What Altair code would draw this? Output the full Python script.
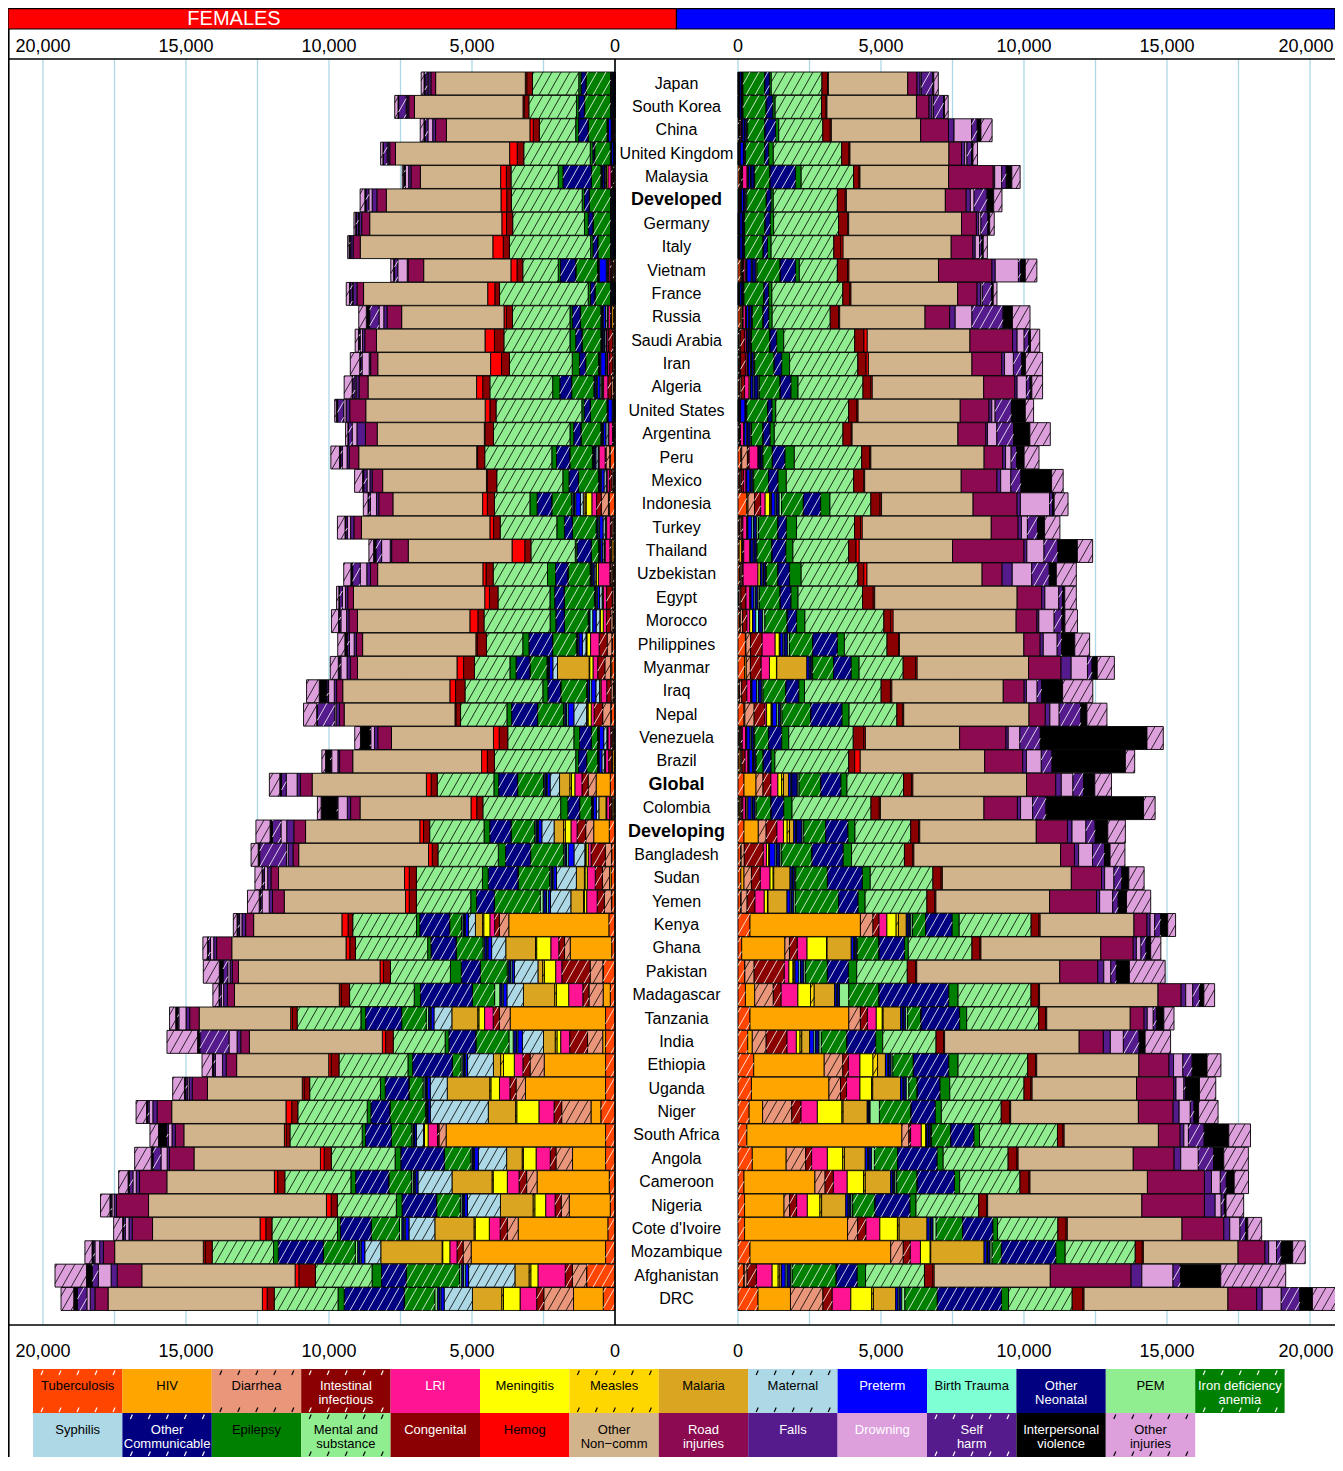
import altair as alt
import numpy as np
import pandas as pd

# ---------------- categories ----------------
CAUSES = ["Tuberculosis", "HIV", "Diarrhea", "Intestinal infectious", "LRI", "Meningitis",
          "Measles", "Malaria", "Maternal", "Preterm", "Birth Trauma", "Other Neonatal", "PEM",
          "Iron deficiency anemia", "Syphilis", "Other Communicable", "Epilepsy",
          "Mental and substance", "Congenital", "Hemog", "Other Non-comm", "Road injuries",
          "Falls", "Drowning", "Self harm", "Interpersonal violence", "Other injuries"]
LEGEND_LABELS = ["Tuberculosis", "HIV", "Diarrhea", "Intestinal\ninfectious", "LRI", "Meningitis",
                 "Measles", "Malaria", "Maternal", "Preterm", "Birth Trauma", "Other\nNeonatal", "PEM",
                 "Iron deficiency\nanemia", "Syphilis", "Other\nCommunicable", "Epilepsy",
                 "Mental and\nsubstance", "Congenital", "Hemog", "Other\nNon\u2212comm", "Road\ninjuries",
                 "Falls", "Drowning", "Self\nharm", "Interpersonal\nviolence", "Other\ninjuries"]
COLORS = ["#FF4500", "#FFA500", "#E9967A", "#8B0000", "#FF1493", "#FFFF00", "#FFD700", "#DAA520",
          "#ADD8E6", "#0000FF", "#7FFFD4", "#000080", "#90EE90", "#008000", "#ADD8E6", "#000080",
          "#008000", "#90EE90", "#8B0000", "#FF0000", "#D2B48C", "#8B0A50", "#551A8B", "#DDA0DD",
          "#551A8B", "#000000", "#DDA0DD"]
HATCHED = [1, 0, 1, 1, 0, 0, 1, 0, 1, 0, 0, 0, 0, 1, 0, 1, 0, 1, 0, 0, 0, 0, 0, 0, 1, 0, 1]
HATCH_INK = ["white", "black", "black", "white", "black", "black", "black", "black", "black", "white",
             "black", "white", "black", "white", "black", "white", "black", "black", "white", "black",
             "black", "white", "white", "black", "white", "white", "black"]
LEGEND_TEXT = ["black", "black", "black", "white", "white", "black", "black", "black", "black", "white",
               "black", "white", "black", "white", "black", "white", "black", "black", "white", "black",
               "black", "white", "white", "white", "white", "white", "black"]

ROWS = ["Japan", "South Korea", "China", "United Kingdom", "Malaysia", "Developed", "Germany", "Italy",
        "Vietnam", "France", "Russia", "Saudi Arabia", "Iran", "Algeria", "United States", "Argentina",
        "Peru", "Mexico", "Indonesia", "Turkey", "Thailand", "Uzbekistan", "Egypt", "Morocco",
        "Philippines", "Myanmar", "Iraq", "Nepal", "Venezuela", "Brazil", "Global", "Colombia",
        "Developing", "Bangladesh", "Sudan", "Yemen", "Kenya", "Ghana", "Pakistan", "Madagascar",
        "Tanzania", "India", "Ethiopia", "Uganda", "Niger", "South Africa", "Angola", "Cameroon",
        "Nigeria", "Cote d'Ivoire", "Mozambique", "Afghanistan", "DRC"]
BOLD_ROWS = ["Developed", "Global", "Developing"]

TICK_VALUES = [0, 5000, 10000, 15000, 20000]
GRID_VALUES = [0, 2500, 5000, 7500, 10000, 12500, 15000, 17500, 20000]

# ---------------- values (order of CAUSES) ----------------
# males
m_japan = [10,5,10,10,20,10,0,0,0,50,10,30,20, 760,5,160,65,1770,195,30,2775,325,110,40,405,30,160]
m_south_korea = [10,5,10,10,20,10,0,0,0,50,10,30,20, 810,5,230,80,1620,160,30,3130,440,100,50,360,30,130]
m_china = [30,10,20,20,50,15,5,0,0,70,20,60,40, 600,5,370,110,1540,260,40,3120,975,195,615,195,130,390]
m_uk = [10,5,10,10,30,15,0,0,0,110,10,40,20, 680,5,130,160,2390,260,30,3460,440,110,80,160,50,160]
m_malaysia = [60,30,30,40,160,30,5,20,0,60,20,110,20, 535,5,890,195,1830,195,30,3100,1560,50,245,160,195,290]
m_developed = [15,10,15,15,40,20,2,0,0,80,15,60,38, 680,5,160,80,2240,275,40,3460,730,145,130,455,230,290]
m_germany = [10,5,10,10,25,10,0,0,0,80,10,50,20, 715,5,180,115,2270,325,30,3945,520,80,80,245,60,160]
m_italy = [10,5,10,10,25,10,0,0,0,80,10,50,20, 650,5,145,130,2190,250,75,3780,760,80,150,80,50,145]
m_vietnam = [80,40,40,50,60,30,5,10,0,150,30,130,40, 810,5,535,130,1330,355,50,3130,1870,115,810,80,160,405]
m_france = [10,5,10,10,25,10,0,0,0,70,10,40,20, 700,5,160,110,2480,245,40,3730,680,120,60,325,60,130]
m_russia = [80,60,20,20,80,30,5,0,0,80,20,80,25, 375,10,195,115,2030,290,40,2985,860,195,585,1090,325,615]
m_saudi = [30,10,40,150,60,20,5,5,0,50,20,50,30, 650,5,230,245,2480,325,115,3590,1490,160,245,160,60,325]
m_iran = [30,20,40,170,60,30,5,5,0,80,30,80,35, 680,5,260,275,2385,290,80,3620,1040,100,310,290,130,600]
m_algeria = [40,10,60,120,160,40,10,5,0,80,40,140,40, 730,5,375,245,2270,275,50,3895,1090,80,325,130,60,375]
m_us = [10,20,10,10,30,10,0,0,0,160,10,30,20, 730,5,145,130,2550,290,40,3570,1005,100,115,570,485,290]
m_argentina = [30,20,20,20,110,20,0,0,0,90,30,90,40, 405,5,245,145,2400,290,30,3700,975,60,325,585,570,715]
m_peru = [100,30,200,60,310,20,5,5,0,40,20,60,25, 325,5,440,325,2355,290,30,3960,650,100,195,195,260,520]
m_mexico = [40,30,40,90,80,20,0,5,0,110,30,70,35, 520,5,325,290,2355,355,30,3375,1250,130,355,355,1070,405]
m_indonesia = [310,40,230,210,160,160,20,40,0,130,40,100,85, 760,5,600,325,1430,325,50,3200,1540,115,1020,100,60,485]
m_turkey = [40,10,60,60,130,40,5,0,0,140,60,110,60, 680,5,290,355,2030,210,60,4510,940,115,210,355,245,535]
m_thailand = [40,90,30,40,210,30,5,5,0,80,30,80,25, 520,5,485,245,1950,260,110,3260,2500,100,600,485,680,535]
m_uzbekistan = [60,20,60,40,520,80,10,0,0,60,40,70,30, 405,5,405,405,1980,210,110,4025,700,355,680,615,245,700]
m_egypt = [30,10,60,180,130,40,5,0,0,100,50,90,50, 730,5,375,245,2255,375,50,4980,860,110,485,130,80,405]
m_morocco = [60,20,80,150,100,100,10,0,0,100,100,140,80, 780,5,325,290,2760,250,75,4300,730,65,535,275,100,440]
m_philippines = [260,20,160,405,455,145,10,20,0,100,40,120,65, 810,5,860,245,1490,405,30,4350,570,110,485,160,455,520]
m_myanmar = [230,60,145,375,290,245,10,1055,0,80,30,60,30, 730,5,615,275,1540,440,50,3895,1135,355,570,160,180,600]
m_iraq = [40,10,80,180,130,40,10,0,0,160,60,120,45, 795,5,455,195,2680,325,50,3895,730,80,375,160,730,1055]
m_nepal = [210,30,325,375,60,160,20,20,0,150,60,80,50, 1005,5,1090,245,1670,210,30,4380,570,160,325,760,210,700]
m_venezuela = [30,30,40,50,120,20,5,10,0,120,40,80,40, 485,5,455,245,2255,375,50,3295,1620,80,405,715,3730,570]
m_brazil = [40,60,40,110,100,30,5,5,0,120,30,65,30, 245,5,275,130,2580,210,195,4350,1330,130,520,375,2565,325]
m_global = [210,420,245,275,245,130,65,180,0,80,30,195,60, 760,5,700,210,1980,275,50,3975,1020,195,405,375,390,585]
m_colombia = [30,40,40,60,90,20,5,60,0,120,40,90,40, 520,5,440,290,2760,290,40,3620,1170,110,420,470,3410,405]
m_developing = [210,500,275,375,230,130,80,150,0,60,30,200,60, 760,5,780,245,1950,275,40,4075,1090,160,485,325,440,615]
m_bangladesh = [100,10,110,665,110,80,20,10,0,195,50,120,60, 1055,5,1090,290,1850,290,40,5130,485,145,485,420,195,520]
m_sudan = [100,110,260,310,340,110,20,570,0,60,30,70,40, 1105,5,1220,275,2190,290,40,4510,1055,110,325,275,245,535]
m_yemen = [100,10,210,275,325,110,20,665,0,110,40,80,60, 1510,5,680,245,2160,275,40,3975,1640,110,455,195,290,845]
m_kenya = [420,3860,440,210,275,325,80,275,0,60,30,70,60, 455,5,925,245,2515,275,40,3280,455,110,160,210,245,275]
m_ghana = [130,1510,160,275,340,680,20,845,0,80,40,60,30, 760,5,890,130,2225,275,40,4190,1135,110,160,180,160,355]
m_pakistan = [230,10,325,1055,160,145,30,40,0,130,60,120,60, 760,5,730,290,1770,290,40,5000,1330,210,245,195,455,1250]
m_madagascar = [260,325,650,275,585,440,130,715,0,60,30,80,325, 1055,5,2435,325,2550,260,40,4140,810,160,245,245,145,375]
m_tanzania = [420,3455,405,245,310,210,30,615,0,60,30,80,70, 470,5,1345,245,2515,245,40,2920,485,110,210,110,260,355]
m_india = [340,160,485,730,325,130,60,275,0,150,60,120,80, 890,5,1005,245,1865,260,40,4705,845,245,455,550,210,890]
m_ethiopia = [550,2465,650,195,405,455,160,275,0,80,30,90,60, 715,5,1235,325,2435,275,40,3570,1055,160,325,325,520,485]
m_uganda = [470,2710,405,210,470,405,40,975,0,80,30,90,90, 290,5,795,340,2595,245,40,3650,1300,80,275,60,485,570]
m_niger = [390,470,1020,325,570,860,40,845,0,40,20,40,325, 1105,5,845,210,2095,290,40,4465,1215,210,390,130,160,680]
m_south_africa = [310,5420,245,60,375,160,10,10,0,60,20,60,40, 665,5,810,195,2725,195,40,3295,760,130,160,550,860,760]
m_angola = [500,1185,680,210,550,535,60,730,0,80,40,100,100, 810,5,1380,210,2270,310,40,4025,1430,230,615,535,355,860]
m_cameroon = [210,2480,355,290,485,570,60,890,0,60,30,60,60, 715,5,1300,180,2110,310,40,4105,1995,245,310,210,275,500]
m_nigeria = [230,1380,195,245,375,440,60,845,0,80,30,70,60, 780,5,1220,210,2190,275,40,5390,2190,375,210,110,60,615]
m_cote = [230,3600,355,290,485,615,60,975,0,80,40,90,110, 925,5,1055,160,2110,290,40,4010,1460,210,355,195,80,485]
m_mozambique = [420,4920,440,245,355,340,20,1865,0,80,40,90,70, 325,5,1900,325,2450,245,40,3310,940,130,275,160,405,440]
m_afghanistan = [210,10,100,325,550,210,60,60,0,130,60,120,60, 1540,5,730,290,2060,290,50,4060,2825,375,1090,260,1410,2270]
m_drc = [700,1135,1135,325,650,730,60,780,0,80,40,90,110, 1135,5,2240,245,2225,375,40,5030,1005,195,665,650,440,890]

# females
f_japan = [5,2,10,10,15,5,0,0,10,40,10,30,20, 860,5,165,80,1620,200,50,3135,165,80,50,80,30,100]
f_south_korea = [5,2,10,10,15,5,0,0,10,40,10,30,20, 905,5,200,80,1665,165,40,3795,200,60,30,265,20,115]
f_china = [20,5,20,15,40,10,2,0,20,100,15,25,8, 660,5,330,100,1270,215,115,2920,380,100,165,100,40,130]
f_uk = [5,5,10,10,20,10,0,0,5,60,10,20,10, 545,5,60,90,2325,230,265,3990,200,60,30,130,20,80]
f_malaysia = [50,20,30,40,110,50,5,20,40,60,20,30,20, 330,5,990,165,1650,165,200,2805,330,80,115,40,20,50]
f_developed = [5,2,10,10,15,5,0,0,10,40,10,30,20, 740,5,165,80,2475,165,200,4010,330,165,115,100,40,165]
f_germany = [5,2,10,10,15,5,0,0,10,40,10,30,20, 610,5,165,130,2510,215,165,4620,280,80,30,80,20,60]
f_italy = [5,2,10,10,15,5,0,0,10,40,10,30,20, 445,5,165,80,2840,215,365,4635,250,80,20,30,10,50]
f_vietnam = [60,30,40,40,50,30,5,10,40,250,20,25,10, 760,5,530,80,1240,200,215,3050,545,30,330,115,30,100]
f_france = [5,2,10,10,15,5,0,0,10,40,10,30,20, 545,5,150,80,3100,165,250,4340,230,130,30,80,20,115]
f_russia = [60,60,20,20,80,30,5,0,60,80,20,40,20, 710,10,280,80,2010,215,80,3580,510,115,165,330,115,265]
f_saudi = [30,5,40,150,60,20,5,5,50,50,20,40,20, 660,5,215,200,2310,330,330,3795,410,80,80,40,20,115]
f_iran = [30,10,40,120,60,20,5,5,40,170,30,30,20, 445,5,215,250,2195,280,380,3945,250,50,250,60,20,330]
f_algeria = [50,10,70,120,150,50,10,5,60,90,40,60,25, 775,5,410,250,2195,250,215,3795,315,100,40,80,20,280]
f_us = [5,15,10,10,20,10,0,0,30,150,5,15,10, 580,5,215,80,3000,215,165,4175,560,130,80,215,40,60]
f_argentina = [30,20,20,20,130,20,0,0,80,90,20,45,20, 695,5,250,130,2675,300,20,3745,410,300,165,130,20,80]
f_peru = [165,20,130,30,215,20,5,5,80,40,20,40,20, 790,5,460,165,2345,250,30,4125,330,80,165,60,40,300]
f_mexico = [40,20,50,90,80,20,0,5,80,100,30,45,20, 695,5,330,215,2310,330,30,3630,365,80,100,115,40,280]
f_indonesia = [200,30,250,165,165,200,40,60,100,165,40,60,40, 695,5,510,250,1240,250,165,3135,495,80,215,60,20,165]
f_turkey = [40,5,60,60,130,40,5,0,80,120,50,50,20, 825,5,280,265,1980,230,130,4490,265,115,115,60,20,265]
f_thailand = [40,70,30,40,165,30,5,5,60,70,20,30,15, 250,5,495,60,1550,215,445,3630,580,50,300,200,80,165]
f_uzbekistan = [60,20,60,40,400,80,10,0,60,50,30,40,20, 775,5,430,280,1900,250,110,3680,250,130,230,265,60,250]
f_egypt = [30,5,60,200,110,40,5,0,90,80,40,40,20, 1055,5,330,165,1815,300,165,4590,200,80,110,100,20,80]
f_morocco = [60,10,80,150,110,110,10,0,130,120,100,40,20, 825,5,300,200,2310,215,280,3930,300,80,200,60,20,250]
f_philippines = [100,10,165,280,300,130,10,20,130,120,30,40,20, 825,5,825,215,1270,330,40,3960,215,80,165,80,80,250]
f_myanmar = [115,40,200,250,165,115,20,1105,165,115,30,40,20, 595,5,480,215,1240,380,230,3480,250,115,215,60,30,280]
f_iraq = [50,10,80,150,200,40,10,0,130,160,60,70,30, 905,5,445,180,2720,330,200,3745,215,80,200,60,265,445]
f_nepal = [130,20,280,300,100,115,30,20,445,200,60,60,40, 905,5,905,165,1620,165,30,3875,165,115,50,610,20,460]
f_venezuela = [30,30,40,50,100,20,5,10,110,150,20,30,15, 215,5,410,200,2310,300,200,3565,480,115,130,30,330,200]
f_brazil = [30,60,40,90,110,30,5,5,90,100,20,20,10, 380,5,280,100,2840,250,200,4505,460,60,215,50,165,130]
f_global = [165,495,280,215,250,115,60,360,330,100,30,60,40, 905,5,660,165,1980,215,165,3995,410,115,380,165,60,365]
f_colombia = [40,40,50,60,100,20,5,250,90,100,20,35,15, 410,5,410,250,2720,215,200,3880,330,115,330,40,545,130]
f_developing = [200,545,280,300,215,200,60,330,430,120,30,60,40, 825,5,740,200,1900,215,130,3995,410,250,200,300,80,495]
f_bangladesh = [115,10,215,495,100,80,20,20,380,200,60,60,40, 1155,5,875,250,2110,200,130,4540,200,165,60,940,50,250]
f_sudan = [130,60,250,250,280,80,20,280,695,100,40,60,40, 1105,5,1040,200,2310,250,165,4405,265,115,115,60,20,250]
f_yemen = [115,10,250,250,365,80,30,445,710,80,60,120,100, 1600,5,625,200,1900,250,130,4240,410,115,250,60,40,410]
f_kenya = [215,3500,330,165,165,215,40,250,250,100,30,60,50, 410,5,1040,115,2230,165,215,3085,280,130,80,60,30,130]
f_ghana = [115,1450,200,200,280,495,40,1040,495,130,30,100,40, 940,5,875,115,2525,200,130,3995,530,100,115,80,20,165]
f_pakistan = [415,10,445,990,215,395,60,165,825,80,50,80,40, 940,5,660,380,2095,250,115,4950,215,80,80,165,130,560]
f_madagascar = [165,250,495,215,495,430,60,1090,580,130,40,80,180, 775,5,1815,215,2260,300,60,3665,250,130,80,60,20,215]
f_tanzania = [330,3335,380,215,300,200,40,905,625,100,30,60,80, 860,5,1255,165,2230,165,60,3200,330,130,250,50,60,215]
f_india = [330,100,530,625,315,130,60,410,740,160,40,120,150, 1155,5,940,130,1815,265,115,4650,300,130,280,1020,80,1070]
f_ethiopia = [330,2145,495,250,300,380,100,250,905,80,30,60,60, 300,5,1385,165,2410,280,80,3220,365,130,250,60,40,365]
f_uganda = [330,2800,330,215,365,300,40,1485,595,100,30,60,60, 495,5,825,165,2475,200,60,3315,530,115,60,60,40,410]
f_niger = [495,345,1025,265,530,775,40,955,2030,80,20,30,40, 1240,5,660,130,2425,215,200,3995,510,150,130,60,30,365]
f_south_africa = [330,5575,250,50,330,130,10,20,250,60,20,40,40, 710,5,905,115,2525,130,65,3515,300,115,130,60,280,300]
f_angola = [330,1155,580,200,495,445,40,545,990,130,30,60,40, 925,5,1520,200,2230,250,130,4420,860,80,215,280,60,580]
f_cameroon = [200,2525,365,265,410,495,40,1400,1190,80,30,60,60, 790,5,1155,165,2310,250,115,3760,955,115,115,130,40,330]
f_nigeria = [165,1435,280,215,330,380,60,1140,1155,100,30,60,60, 825,5,1205,200,2065,215,165,6220,1120,80,80,40,30,330]
f_cote = [250,3135,380,250,380,495,40,1370,905,130,40,80,80, 990,5,1070,100,2295,215,200,3760,710,115,130,60,30,315]
f_mozambique = [330,4700,280,215,250,250,20,2145,560,130,40,80,80, 1120,5,1570,165,2145,250,60,3100,395,130,165,60,40,250]
f_afghanistan = [990,5,495,250,955,250,60,495,1620,115,60,80,60, 1865,5,860,330,1980,580,130,5360,860,215,445,215,200,1100]
f_drc = [410,1040,1040,250,580,580,60,1025,990,115,40,80,90, 1070,5,2095,215,2230,250,165,5395,460,165,115,330,130,445]

MALE_ROWS = [m_japan, m_south_korea, m_china, m_uk, m_malaysia, m_developed, m_germany, m_italy,
             m_vietnam, m_france, m_russia, m_saudi, m_iran, m_algeria, m_us, m_argentina, m_peru,
             m_mexico, m_indonesia, m_turkey, m_thailand, m_uzbekistan, m_egypt, m_morocco,
             m_philippines, m_myanmar, m_iraq, m_nepal, m_venezuela, m_brazil, m_global, m_colombia,
             m_developing, m_bangladesh, m_sudan, m_yemen, m_kenya, m_ghana, m_pakistan, m_madagascar,
             m_tanzania, m_india, m_ethiopia, m_uganda, m_niger, m_south_africa, m_angola, m_cameroon,
             m_nigeria, m_cote, m_mozambique, m_afghanistan, m_drc]
FEMALE_ROWS = [f_japan, f_south_korea, f_china, f_uk, f_malaysia, f_developed, f_germany, f_italy,
               f_vietnam, f_france, f_russia, f_saudi, f_iran, f_algeria, f_us, f_argentina, f_peru,
               f_mexico, f_indonesia, f_turkey, f_thailand, f_uzbekistan, f_egypt, f_morocco,
               f_philippines, f_myanmar, f_iraq, f_nepal, f_venezuela, f_brazil, f_global, f_colombia,
               f_developing, f_bangladesh, f_sudan, f_yemen, f_kenya, f_ghana, f_pakistan, f_madagascar,
               f_tanzania, f_india, f_ethiopia, f_uganda, f_niger, f_south_africa, f_angola, f_cameroon,
               f_nigeria, f_cote, f_mozambique, f_afghanistan, f_drc]

# ---------------- layout constants ----------------
WIDTH = 1327
PLOT_H = 1266
PAD_TOP = 51
PAD_BOTTOM = 132
HEAD_TOP, HEAD_BOT = -51.0, -30.0
PX_PER_UNIT = 572.0 / 20000.0
F_ZERO = 607.0
M_ZERO = 730.0
ROW_PX = 23.375
ROW_TOP = -24.5 / ROW_PX
BAR_HALF = 0.49
HATCH_SPACING = 9.0
HATCH_RUN = 13.0
FONT = "Liberation Sans"


def xs_f():
    return alt.Scale(domain=[(F_ZERO - WIDTH) / PX_PER_UNIT, F_ZERO / PX_PER_UNIT],
                     reverse=True, nice=False, zero=False)


def xs_m():
    return alt.Scale(domain=[-M_ZERO / PX_PER_UNIT, (WIDTH - M_ZERO) / PX_PER_UNIT],
                     nice=False, zero=False)


def xs_p():
    return alt.Scale(domain=[0, WIDTH], nice=False, zero=False)


def ys_row():
    return alt.Scale(domain=[ROW_TOP, ROW_TOP + PLOT_H / ROW_PX], reverse=True, nice=False, zero=False)


def ys_p():
    return alt.Scale(domain=[0, PLOT_H], reverse=True, nice=False, zero=False)


# ---------------- build tables ----------------
bar_recs = []
hatch_recs = []
for side, rows in (("F", FEMALE_ROWS), ("M", MALE_ROWS)):
    for r, vals in enumerate(rows):
        cum = 0.0
        for c, v in enumerate(vals):
            if v > 0:
                v0, v1 = cum, cum + v
                bar_recs.append({"side": side, "row": r, "country": ROWS[r], "cause": CAUSES[c],
                                 "v0": v0, "v1": v1, "y0": r - BAR_HALF, "y1": r + BAR_HALF,
                                 "color": COLORS[c]})
                if HATCHED[c]:
                    if side == "F":
                        L, R = F_ZERO - v1 * PX_PER_UNIT, F_ZERO - v0 * PX_PER_UNIT
                    else:
                        L, R = M_ZERO + v0 * PX_PER_UNIT, M_ZERO + v1 * PX_PER_UNIT
                    kmin = int(np.floor((L - HATCH_RUN) / HATCH_SPACING)) - 1
                    kmax = int(np.ceil(R / HATCH_SPACING)) + 1
                    for k in range(kmin, kmax + 1):
                        b = k * HATCH_SPACING
                        t_lo = max(0.0, (L - b) / HATCH_RUN)
                        t_hi = min(1.0, (R - b) / HATCH_RUN)
                        if t_hi - t_lo < 0.04:
                            continue
                        xa, xb = b + t_lo * HATCH_RUN, b + t_hi * HATCH_RUN
                        if side == "F":
                            ha, hb = (F_ZERO - xa) / PX_PER_UNIT, (F_ZERO - xb) / PX_PER_UNIT
                        else:
                            ha, hb = (xa - M_ZERO) / PX_PER_UNIT, (xb - M_ZERO) / PX_PER_UNIT
                        hatch_recs.append({"side": side, "hx0": ha, "hx1": hb,
                                           "hy0": r + BAR_HALF - 2 * BAR_HALF * t_lo,
                                           "hy1": r + BAR_HALF - 2 * BAR_HALF * t_hi,
                                           "ink": HATCH_INK[c]})
            cum += v

bars = pd.DataFrame(bar_recs)
hatches = pd.DataFrame(hatch_recs)


def bar_layer(side, xscale):
    d = bars[bars.side == side]
    return alt.Chart(d).mark_rect(stroke="black", strokeWidth=0.9).encode(
        x=alt.X("v0:Q", scale=xscale, axis=None), x2="v1:Q",
        y=alt.Y("y0:Q", scale=ys_row(), axis=None), y2="y1:Q",
        color=alt.Color("color:N", scale=None))


def hatch_layer(side, xscale):
    d = hatches[hatches.side == side]
    return alt.Chart(d).mark_rule(strokeWidth=0.8).encode(
        x=alt.X("hx0:Q", scale=xscale, axis=None), x2="hx1:Q",
        y=alt.Y("hy0:Q", scale=ys_row(), axis=None), y2="hy1:Q",
        color=alt.Color("ink:N", scale=None))


grid_df = pd.DataFrame({"g": GRID_VALUES, "y0": 0.0, "y1": float(PLOT_H)})


def grid_layer(xscale):
    return alt.Chart(grid_df).mark_rule(color="#ADD8E6", strokeWidth=1.3).encode(
        x=alt.X("g:Q", scale=xscale, axis=None),
        y=alt.Y("y0:Q", scale=ys_p(), axis=None), y2="y1:Q")


def tick_layer(xscale, edge_shift):
    recs = []
    for t in TICK_VALUES:
        pos = t - edge_shift if t == TICK_VALUES[-1] else t
        for ty in (-12.5, PLOT_H + 26.5):
            recs.append({"t": pos, "lab": f"{t:,}", "ty": ty})
    return alt.Chart(pd.DataFrame(recs)).mark_text(
        font=FONT, fontSize=18, baseline="middle", color="black").encode(
        x=alt.X("t:Q", scale=xscale, axis=None),
        y=alt.Y("ty:Q", scale=ys_p(), axis=None),
        text="lab:N")


# country labels
lab_df = pd.DataFrame({"country": ROWS, "row": list(range(len(ROWS))),
                       "lx": (F_ZERO + M_ZERO) / 2.0})
lab_df["bold"] = lab_df.country.isin(BOLD_ROWS)
label_normal = alt.Chart(lab_df[~lab_df.bold]).mark_text(
    font=FONT, fontSize=16, baseline="middle", align="center", color="black").encode(
    x=alt.X("lx:Q", scale=xs_p(), axis=None),
    y=alt.Y("row:Q", scale=ys_row(), axis=None), text="country:N")
label_bold = alt.Chart(lab_df[lab_df.bold]).mark_text(
    font=FONT, fontSize=18, fontWeight="bold", baseline="middle", align="center", color="black").encode(
    x=alt.X("lx:Q", scale=xs_p(), axis=None),
    y=alt.Y("row:Q", scale=ys_row(), axis=None), text="country:N")

# header
CENTER_X = (F_ZERO + M_ZERO) / 2.0
head_df = pd.DataFrame({"x0": [0.0, CENTER_X], "x1": [CENTER_X, float(WIDTH)],
                        "y0": [HEAD_TOP + 0.6, HEAD_TOP + 0.6], "y1": [HEAD_BOT, HEAD_BOT],
                        "color": ["#FF0000", "#0000FF"], "name": ["FEMALES", "MALES"]})
header = alt.Chart(head_df).mark_rect(stroke="black", strokeWidth=1.2).encode(
    x=alt.X("x0:Q", scale=xs_p(), axis=None), x2="x1:Q",
    y=alt.Y("y0:Q", scale=ys_p(), axis=None), y2="y1:Q",
    color=alt.Color("color:N", scale=None))
head_text = alt.Chart(pd.DataFrame({"tx": [226.0], "ty": [(HEAD_TOP + HEAD_BOT) / 2 + 0.5],
                                    "t": ["FEMALES"]})).mark_text(
    font=FONT, fontSize=20, color="white", baseline="middle", align="center").encode(
    x=alt.X("tx:Q", scale=xs_p(), axis=None), y=alt.Y("ty:Q", scale=ys_p(), axis=None), text="t:N")

# frame lines
frame_df = pd.DataFrame({
    "x0": [0.0, 0.0, 0.8, F_ZERO],
    "x1": [float(WIDTH), float(WIDTH), 0.8, F_ZERO],
    "y0": [0.0, float(PLOT_H), HEAD_TOP, 0.0],
    "y1": [0.0, float(PLOT_H), float(PLOT_H + PAD_BOTTOM), float(PLOT_H)]})
frame = alt.Chart(frame_df).mark_rule(color="black", strokeWidth=1.6).encode(
    x=alt.X("x0:Q", scale=xs_p(), axis=None), x2="x1:Q",
    y=alt.Y("y0:Q", scale=ys_p(), axis=None), y2="y1:Q")

# legend
LEG_X0, LEG_W, LEG_Y0, LEG_H, LEG_COLS = 25.0, 89.4, 1310.0, 44.0, 14
leg_recs, leg_hatch = [], []
for i, name in enumerate(CAUSES):
    col, rw = i % LEG_COLS, i // LEG_COLS
    x0 = LEG_X0 + col * LEG_W
    y0 = LEG_Y0 + rw * LEG_H
    leg_recs.append({"x0": x0, "x1": x0 + LEG_W, "y0": y0, "y1": y0 + LEG_H, "color": COLORS[i],
                     "tx": x0 + LEG_W / 2, "ty": y0 + 10.5, "label": LEGEND_LABELS[i],
                     "tcol": LEGEND_TEXT[i]})
    if HATCHED[i]:
        for j in range(5):
            hx = x0 + 8 + j * 18
            for (a, b) in ((1.5, 6.0), (LEG_H - 5.5, LEG_H - 1.0)):
                leg_hatch.append({"x0": hx, "x1": hx + 2.0, "y0": y0 + b, "y1": y0 + a,
                                  "ink": HATCH_INK[i]})
leg_df = pd.DataFrame(leg_recs)
leg_h_df = pd.DataFrame(leg_hatch)
leg_boxes = alt.Chart(leg_df).mark_rect().encode(
    x=alt.X("x0:Q", scale=xs_p(), axis=None), x2="x1:Q",
    y=alt.Y("y0:Q", scale=ys_p(), axis=None), y2="y1:Q",
    color=alt.Color("color:N", scale=None))
leg_text = alt.Chart(leg_df).mark_text(font=FONT, fontSize=13, baseline="top", align="center",
                                       lineBreak="\n", lineHeight=14).encode(
    x=alt.X("tx:Q", scale=xs_p(), axis=None), y=alt.Y("ty:Q", scale=ys_p(), axis=None),
    text="label:N", color=alt.Color("tcol:N", scale=None))
leg_hatches = alt.Chart(leg_h_df).mark_rule(strokeWidth=1.2).encode(
    x=alt.X("x0:Q", scale=xs_p(), axis=None), x2="x1:Q",
    y=alt.Y("y0:Q", scale=ys_p(), axis=None), y2="y1:Q",
    color=alt.Color("ink:N", scale=None))

layers = [
    grid_layer(xs_f()), grid_layer(xs_m()),
    bar_layer("F", xs_f()), bar_layer("M", xs_m()),
    hatch_layer("F", xs_f()), hatch_layer("M", xs_m()),
    frame, tick_layer(xs_f(), 0.0), tick_layer(xs_m(), 4.0 / PX_PER_UNIT),
    label_normal, label_bold,
    header, head_text,
    leg_boxes, leg_hatches, leg_text,
]

chart = alt.layer(*layers).resolve_scale(
    x="independent", y="independent", color="independent"
).properties(
    width=WIDTH, height=PLOT_H,
    autosize=alt.AutoSizeParams(type="none"),
    padding={"left": 0, "top": PAD_TOP, "right": 0, "bottom": PAD_BOTTOM},
).configure_view(stroke=None)

chart.save("out.html", embed_options={"renderer": "svg", "actions": False})
